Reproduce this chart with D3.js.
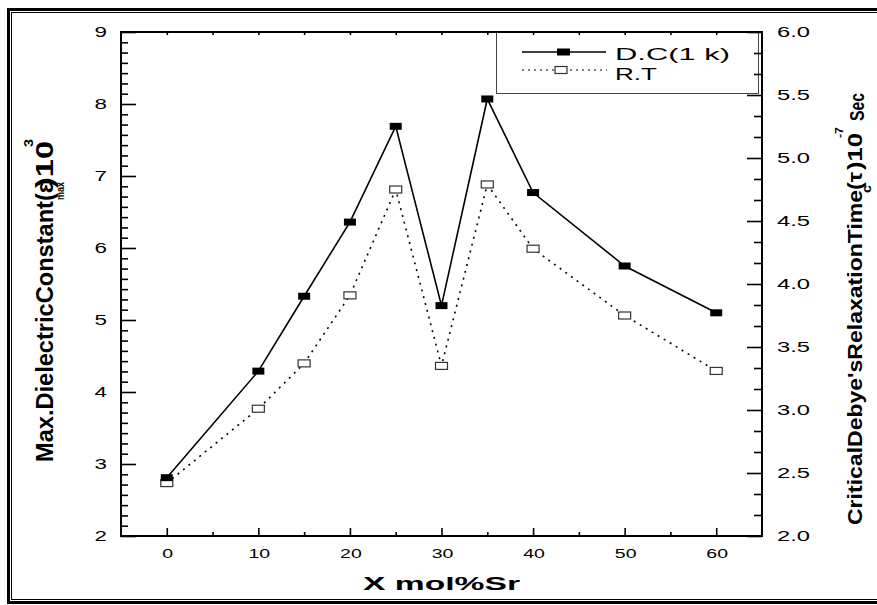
<!DOCTYPE html>
<html>
<head>
<meta charset="utf-8">
<script src="https://cdn.jsdelivr.net/npm/d3@7"></script>
<style>
  body { margin: 0; background: #fff; }
  svg { display: block; font-family: 'Liberation Sans', Arial, sans-serif; }
</style>
</head>
<body>
<div class="canvas"></div>
<script>
// data
const xValues = [0, 10, 15, 20, 25, 30, 35, 40, 50, 60];
const dcValues = [2.81, 4.29, 5.33, 6.36, 7.69, 5.2, 8.07, 6.77, 5.75, 5.1]; // left axis
const rtValues = [2.42, 3.01, 3.37, 3.91, 4.75, 3.35, 4.79, 4.28, 3.75, 3.31]; // right axis
const xTicks = [0, 10, 20, 30, 40, 50, 60];
const leftTicks = [2, 3, 4, 5, 6, 7, 8, 9];
const rightTicks = [2.0, 2.5, 3.0, 3.5, 4.0, 4.5, 5.0, 5.5, 6.0];
const legendLabels = ['D.C(1 k)', 'R.T'];

const dims = { width: 877, height: 605, left: 121, top: 32, right: 762, bottom: 536 };

const svg = d3.select('.canvas')
  .append('svg')
  .attr('width', dims.width)
  .attr('height', dims.height);

// double frame round the figure
svg.append('rect')
  .attr('x', 8.5).attr('y', 9.5)
  .attr('width', 880).attr('height', 593)
  .attr('fill', 'none').attr('stroke', '#000').attr('stroke-width', 3);
svg.append('rect')
  .attr('x', 11.5).attr('y', 12.5)
  .attr('width', 880).attr('height', 587)
  .attr('fill', 'none').attr('stroke', '#000').attr('stroke-width', 1);

// scales
const x = d3.scaleLinear().domain([-5, 65]).range([dims.left, dims.right]);
const yL = d3.scaleLinear().domain([2, 9]).range([dims.bottom, dims.top]);
const yR = d3.scaleLinear().domain([2, 6]).range([dims.bottom, dims.top]);

// text in the source is stretched sideways
function stretched(parent, px, py, str, sx, size, anchor, weight) {
  return parent.append('text')
    .attr('transform', `translate(${px},${py}) scale(${sx},1)`)
    .attr('text-anchor', anchor)
    .attr('dy', '0.35em')
    .attr('font-size', size)
    .attr('font-weight', weight || 'normal')
    .text(str);
}

// legend box (axes ticks go over it)
const legend = svg.append('g');
legend.append('rect')
  .attr('x', 496.5).attr('y', 32.5)
  .attr('width', 262).attr('height', 61)
  .attr('fill', '#fff').attr('stroke', '#444').attr('stroke-width', 1);

// axes
const styleAxis = (g) => {
  g.select('.domain').remove();
  g.selectAll('.tick line').attr('stroke', '#000').attr('stroke-width', 1.6);
  g.selectAll('.tick text').remove();
};

const leftMinor = d3.range(0, 50).filter((i) => i % 7 !== 0).map((i) => 2 + i / 7);
const rightMinor = d3.range(0, 25).filter((i) => i % 3 !== 0).map((i) => 2 + i / 6);

svg.append('g').attr('transform', `translate(${dims.left},0)`)
  .call(d3.axisLeft(yL).tickValues(leftTicks).tickSize(-15)).call(styleAxis);
svg.append('g').attr('transform', `translate(${dims.left},0)`)
  .call(d3.axisLeft(yL).tickValues(leftMinor).tickSize(-7)).call(styleAxis);

svg.append('g').attr('transform', `translate(${dims.right},0)`)
  .call(d3.axisRight(yR).tickValues(rightTicks).tickSize(-15)).call(styleAxis);
svg.append('g').attr('transform', `translate(${dims.right},0)`)
  .call(d3.axisRight(yR).tickValues(rightMinor).tickSize(-8)).call(styleAxis);

svg.append('g').attr('transform', `translate(0,${dims.bottom})`)
  .call(d3.axisBottom(x).tickValues(xTicks).tickSize(-8)).call(styleAxis);
svg.append('g').attr('transform', `translate(0,${dims.bottom})`)
  .call(d3.axisBottom(x).tickValues([5, 15, 25, 35, 45, 55]).tickSize(-4)).call(styleAxis);

svg.append('g').attr('transform', `translate(0,${dims.top})`)
  .call(d3.axisTop(x).tickValues(d3.range(0, 61, 5)).tickSize(-3)).call(styleAxis);

// plot frame
svg.append('rect')
  .attr('x', dims.left).attr('y', dims.top)
  .attr('width', dims.right - dims.left).attr('height', dims.bottom - dims.top)
  .attr('fill', 'none').attr('stroke', '#000').attr('stroke-width', 2);

// tick labels
leftTicks.forEach((t) => stretched(svg, 107, yL(t), t, 1.6, 14, 'end'));
rightTicks.forEach((t) => stretched(svg, 777, yR(t), t.toFixed(1), 1.7, 14, 'start'));
xTicks.forEach((t) => stretched(svg, x(t) + 1, 553, t, 1.5, 13, 'middle'));

// series
const dcData = xValues.map((v, i) => ({ x: v, y: dcValues[i] }));
const rtData = xValues.map((v, i) => ({ x: v, y: rtValues[i] }));

svg.append('path')
  .datum(rtData)
  .attr('fill', 'none').attr('stroke', '#000')
  .attr('stroke-width', 1.6).attr('stroke-dasharray', '2,5')
  .attr('d', d3.line().x((d) => x(d.x)).y((d) => yR(d.y)));

svg.append('path')
  .datum(dcData)
  .attr('fill', 'none').attr('stroke', '#000').attr('stroke-width', 1.6)
  .attr('d', d3.line().x((d) => x(d.x)).y((d) => yL(d.y)));

const mw = 12, mh = 7;
svg.selectAll('.rt').data(rtData).enter().append('rect')
  .attr('class', 'rt')
  .attr('x', (d) => x(d.x) - mw / 2).attr('y', (d) => yR(d.y) - mh / 2)
  .attr('width', mw).attr('height', mh)
  .attr('fill', '#fff').attr('stroke', '#333').attr('stroke-width', 1.2);

svg.selectAll('.dc').data(dcData).enter().append('rect')
  .attr('class', 'dc')
  .attr('x', (d) => x(d.x) - mw / 2).attr('y', (d) => yL(d.y) - mh / 2)
  .attr('width', mw).attr('height', mh)
  .attr('fill', '#000');

// legend entries
legend.append('line').attr('x1', 522).attr('x2', 606).attr('y1', 52).attr('y2', 52)
  .attr('stroke', '#000').attr('stroke-width', 1.4);
legend.append('rect').attr('x', 557).attr('y', 48.5).attr('width', 13).attr('height', 7).attr('fill', '#000');
legend.append('line').attr('x1', 522).attr('x2', 607).attr('y1', 70).attr('y2', 70)
  .attr('stroke', '#000').attr('stroke-width', 1.2).attr('stroke-dasharray', '2,4');
legend.append('rect').attr('x', 555).attr('y', 66.5).attr('width', 12).attr('height', 7)
  .attr('fill', '#fff').attr('stroke', '#333').attr('stroke-width', 1.2);
legend.append('text').attr('x', 615).attr('y', 60).attr('font-size', 17)
  .attr('textLength', 115).attr('lengthAdjust', 'spacingAndGlyphs').text(legendLabels[0]);
legend.append('text').attr('x', 615).attr('y', 80).attr('font-size', 17)
  .attr('textLength', 42).attr('lengthAdjust', 'spacingAndGlyphs').text(legendLabels[1]);

// x axis title
svg.append('text').attr('x', 363).attr('y', 590)
  .attr('font-size', 19).attr('font-weight', 'bold')
  .attr('textLength', 157).attr('lengthAdjust', 'spacingAndGlyphs')
  .text('X mol%Sr');

// left title, rotated, in pieces
const vtext = (px, py, str, size, len) => svg.append('text')
  .attr('transform', `translate(${px},${py}) rotate(-90)`)
  .attr('font-size', size).attr('font-weight', 'bold')
  .attr('textLength', len).attr('lengthAdjust', 'spacingAndGlyphs')
  .text(str);

vtext(53, 462, 'Max.DielectricConstant(ε', 23, 280);
vtext(64, 200, 'max', 11, 18);
vtext(53, 188, ')10', 23, 47);
vtext(33, 147, '3', 13, 8);

// right title, rotated, in pieces
vtext(862, 525, "CriticalDebye'sRelaxationTime(τ", 21, 353);
vtext(871, 193, 'c', 12, 8);
vtext(862, 170, ')10', 21, 37);
vtext(843, 138, '-7', 11, 11);
vtext(864, 121, 'Sec', 21, 28);
</script>
</body>
</html>
